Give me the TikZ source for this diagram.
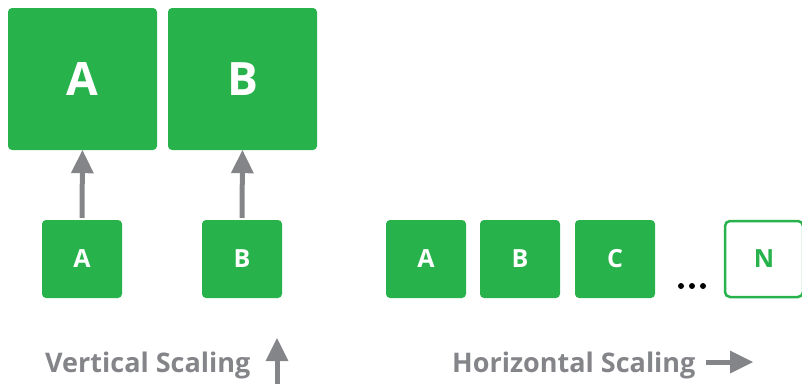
\documentclass[tikz,border=0pt]{standalone}
\usepackage{fontspec}
\setmainfont{Open Sans}
\usetikzlibrary{positioning, arrows.meta}

\definecolor{boxgreen}{HTML}{27B24C}
\definecolor{arrowgrey}{HTML}{848589}

\tikzset{
  bigbox/.style={fill=boxgreen, text=white, rounded corners=4pt, minimum width=149pt,
    minimum height=142pt, font=\bfseries\fontsize{46}{46}\selectfont},
  smallbox/.style={fill=boxgreen, text=white, rounded corners=4pt, minimum width=80pt,
    minimum height=78pt, font=\bfseries\fontsize{25}{25}\selectfont},
  openbox/.style={draw=boxgreen, line width=2.5pt, fill=white, text=boxgreen, rounded corners=5pt,
    minimum width=78pt, minimum height=76pt, font=\bfseries\fontsize{25}{25}\selectfont},
  captext/.style={text=arrowgrey, font=\bfseries\fontsize{27}{27}\selectfont, inner sep=0pt},
  growarrow/.style={draw=arrowgrey, line width=5pt,
    -{Triangle[width=23pt, length=23pt, line width=0pt, fill=arrowgrey]}}
}

\begin{document}
\begin{tikzpicture}[x=1pt, y=-1pt]
  \useasboundingbox (0,0) rectangle (802,384);

  % vertical scaling: small boxes grow into big ones
  \node[bigbox] (bigA) at (82.5,79) {A};
  \node[bigbox] (bigB) at (242.5,79) {B};
  \node[smallbox] (vA) at (82,259) {A};
  \node[smallbox] (vB) at (242,259) {B};
  \draw[growarrow] ([yshift=2pt]vA.north) -- (bigA.south);
  \draw[growarrow] ([yshift=2pt]vB.north) -- (bigB.south);

  % horizontal scaling: more boxes side by side
  \node[smallbox] (hA) at (426,259) {A};
  \node[smallbox] (hB) at (520,259) {B};
  \node[smallbox] (hC) at (615,259) {C};
  \node[openbox] (hN) at (764,259) {N};
  \foreach \x in {681,692,703}
    \fill (\x,286) circle (3pt);

  % captions
  \node[captext, anchor=base west] (vcap) at (45,372) {Vertical Scaling};
  \node[captext, anchor=base west] (hcap) at (452,372) {Horizontal Scaling};
  \coordinate (vtip) at (277,338);
  \coordinate (htip) at (753,362);
  \draw[growarrow] (277,384) -- (vtip);
  \draw[growarrow] (706,362) -- (htip);
\end{tikzpicture}
\end{document}
